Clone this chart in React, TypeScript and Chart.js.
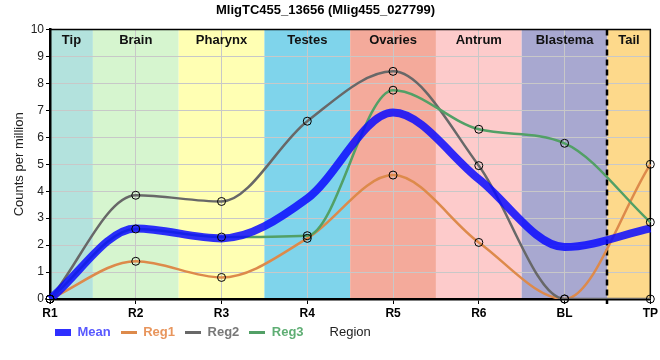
import React, { useEffect, useRef } from 'react';
import { Chart, registerables } from 'chart.js';

Chart.register(...registerables);

const categories = ['R1', 'R2', 'R3', 'R4', 'R5', 'R6', 'BL', 'TP'];
const meanValues = [0, 2.62, 2.25, 3.73, 6.92, 4.45, 1.93, 2.62];
const reg1Values = [0, 1.4, 0.8, 2.25, 4.6, 2.1, 0, 5.0];
const reg2Values = [0, 3.85, 3.62, 6.6, 8.45, 4.95, 0, 0];
const reg3Values = [0, 2.6, 2.3, 2.35, 7.75, 6.3, 5.78, 2.85];
const regionNames = ['Tip', 'Brain', 'Pharynx', 'Testes', 'Ovaries', 'Antrum', 'Blastema', 'Tail'];
const regionColors = ['#b3e2dd', '#d6f5cf', '#ffffb3', '#7fd4eb', '#f4aa9b', '#fdcbcb', '#a8a8d0', '#fdd98b'];
const yTicks = [0, 1, 2, 3, 4, 5, 6, 7, 8, 9, 10];

const FONT = "'Liberation Sans', Arial, sans-serif";
const MEAN_COLOR = 'rgba(10,10,255,0.85)';
const REG1_COLOR = '#dd8a4b';
const REG2_COLOR = '#686868';
const REG3_COLOR = '#52a066';

function makeSwatch(color: string, w: number, h: number) {
  const c = document.createElement('canvas');
  c.width = w;
  c.height = h;
  const cx = c.getContext('2d')!;
  cx.fillStyle = color;
  cx.fillRect(0, 0, w, h);
  return c;
}

export default function App() {
  const ref = useRef<HTMLCanvasElement | null>(null);

  useEffect(() => {
    document.body.style.margin = '0';
    const canvas = ref.current!;
    const swatches = [
      makeSwatch(MEAN_COLOR, 16, 7),
      makeSwatch(REG1_COLOR, 16, 3),
      makeSwatch(REG2_COLOR, 16, 3),
      makeSwatch(REG3_COLOR, 16, 3),
    ];
    const legendTextColors = ['#5858ff', '#e8955c', '#787878', '#5fae74'];

    const bandsPlugin = {
      id: 'bands',
      beforeDraw(chart: any) {
        const { ctx, chartArea: a, scales } = chart;
        const x = scales.x;
        ctx.save();
        regionNames.forEach((name, i) => {
          const l = Math.max(a.left, x.getPixelForValue(i - 0.5));
          const r = Math.min(a.right, x.getPixelForValue(i + 0.5));
          ctx.fillStyle = regionColors[i];
          ctx.fillRect(l, a.top, r - l, a.bottom - a.top);
        });
        ctx.restore();
      },
      beforeDatasetsDraw(chart: any) {
        const { ctx, chartArea: a, scales } = chart;
        const x = scales.x;
        ctx.save();
        ctx.font = `bold 13px ${FONT}`;
        ctx.fillStyle = '#111';
        ctx.textAlign = 'center';
        ctx.textBaseline = 'middle';
        regionNames.forEach((name, i) => {
          const l = Math.max(a.left, x.getPixelForValue(i - 0.5));
          const r = Math.min(a.right, x.getPixelForValue(i + 0.5));
          ctx.fillText(name, (l + r) / 2, a.top + 11);
        });
        // dashed separator between Blastema and Tail
        const dx = Math.round(x.getPixelForValue(6.5));
        ctx.strokeStyle = '#000';
        ctx.lineWidth = 2.5;
        ctx.setLineDash([6, 4]);
        ctx.beginPath();
        ctx.moveTo(dx, a.top);
        ctx.lineTo(dx, a.bottom + 5);
        ctx.stroke();
        ctx.setLineDash([]);
        // top & right frame
        ctx.lineWidth = 1.5;
        ctx.beginPath();
        ctx.moveTo(a.left, a.top);
        ctx.lineTo(a.right, a.top);
        ctx.lineTo(a.right, a.bottom);
        ctx.stroke();
        ctx.restore();
      },
      afterLayout(chart: any) {
        const lg = chart.legend;
        if (lg) {
          const w = lg.right - lg.left;
          lg.left = 45;
          lg.right = 45 + w;
          lg.top -= 5;
          lg.bottom -= 5;
        }
      },
      afterDraw(chart: any) {
        const { ctx, chartArea: a } = chart;
        const lg = chart.legend;
        ctx.save();
        ctx.font = `13px ${FONT}`;
        ctx.fillStyle = '#222';
        ctx.textAlign = 'center';
        ctx.textBaseline = 'middle';
        ctx.fillText('Region', (a.left + a.right) / 2, lg.top + 10 + 6.5);
        ctx.restore();
      },
    };

    const line = (label: string, data: number[], color: string, width: number, order: number) => ({
      label,
      data,
      borderColor: color,
      backgroundColor: color,
      borderWidth: width,
      pointRadius: 0,
      pointHoverRadius: 0,
      cubicInterpolationMode: 'monotone' as const,
      fill: false,
      order,
    });
    const pts = (label: string, data: number[]) => ({
      label,
      data,
      showLine: false,
      pointRadius: 4,
      pointBorderColor: '#000',
      pointBorderWidth: 1,
      pointBackgroundColor: 'rgba(0,0,0,0)',
      borderColor: 'rgba(0,0,0,0)',
      backgroundColor: 'rgba(0,0,0,0)',
      clip: false as const,
      order: 0,
    });

    const chart = new Chart(canvas, {
      type: 'line',
      data: {
        labels: categories,
        datasets: [
          line('Mean', meanValues, MEAN_COLOR, 8, 1),
          line('Reg1', reg1Values, REG1_COLOR, 2.5, 4),
          line('Reg2', reg2Values, REG2_COLOR, 2.5, 3),
          line('Reg3', reg3Values, REG3_COLOR, 2.5, 2),
          pts('p1', reg1Values),
          pts('p2', reg2Values),
          pts('p3', reg3Values),
        ] as any,
      },
      options: {
        animation: false,
        responsive: false,
        devicePixelRatio: 1,
        layout: { padding: { left: 0, right: 9, top: 0, bottom: 6 } },
        plugins: {
          title: {
            display: true,
            text: 'MligTC455_13656 (Mlig455_027799)',
            font: { family: FONT, size: 13, weight: 'bold' },
            color: '#000',
            padding: { top: 3, bottom: 11 },
          },
          legend: {
            position: 'bottom',
            align: 'start',
            labels: {
              usePointStyle: true,
              pointStyleWidth: 16,
              padding: 10,
              font: { family: FONT, size: 13, weight: 'bold' },
              generateLabels: () =>
                ['Mean', 'Reg1', 'Reg2', 'Reg3'].map((t, i) => ({
                  text: t,
                  fontColor: legendTextColors[i],
                  fillStyle: 'rgba(0,0,0,0)',
                  strokeStyle: 'rgba(0,0,0,0)',
                  lineWidth: 0,
                  pointStyle: swatches[i] as any,
                  hidden: false,
                  datasetIndex: i,
                })) as any,
            },
          },
          tooltip: { enabled: false },
        },
        scales: {
          x: {
            type: 'category',
            offset: false,
            grid: { color: '#c8c8c8', tickLength: 5, tickColor: '#000' },
            border: { color: '#000', width: 2.5 },
            ticks: { font: { family: FONT, size: 12, weight: 'bold' }, color: '#000', padding: 2, maxRotation: 0 },
            afterFit: (s: any) => {
              s.height = 22;
            },
          },
          y: {
            min: 0,
            max: 10,
            grid: { color: '#c8c8c8', tickLength: 4, tickColor: '#000' },
            border: { color: '#000', width: 2.5 },
            afterBuildTicks: (s: any) => {
              s.ticks = yTicks.map((v) => ({ value: v }));
            },
            ticks: { font: { family: FONT, size: 12 }, color: '#222', padding: 2 },
            title: {
              display: true,
              text: 'Counts per million',
              font: { family: FONT, size: 13 },
              color: '#222',
              padding: { top: 12, bottom: 0 },
            },
            afterFit: (s: any) => {
              s.width = 50;
            },
          },
        },
      },
      plugins: [bandsPlugin],
    });
    return () => chart.destroy();
  }, []);

  return (
    <div style={{ width: 660, height: 360 }}>
      <canvas ref={ref} width={660} height={360} />
    </div>
  );
}
